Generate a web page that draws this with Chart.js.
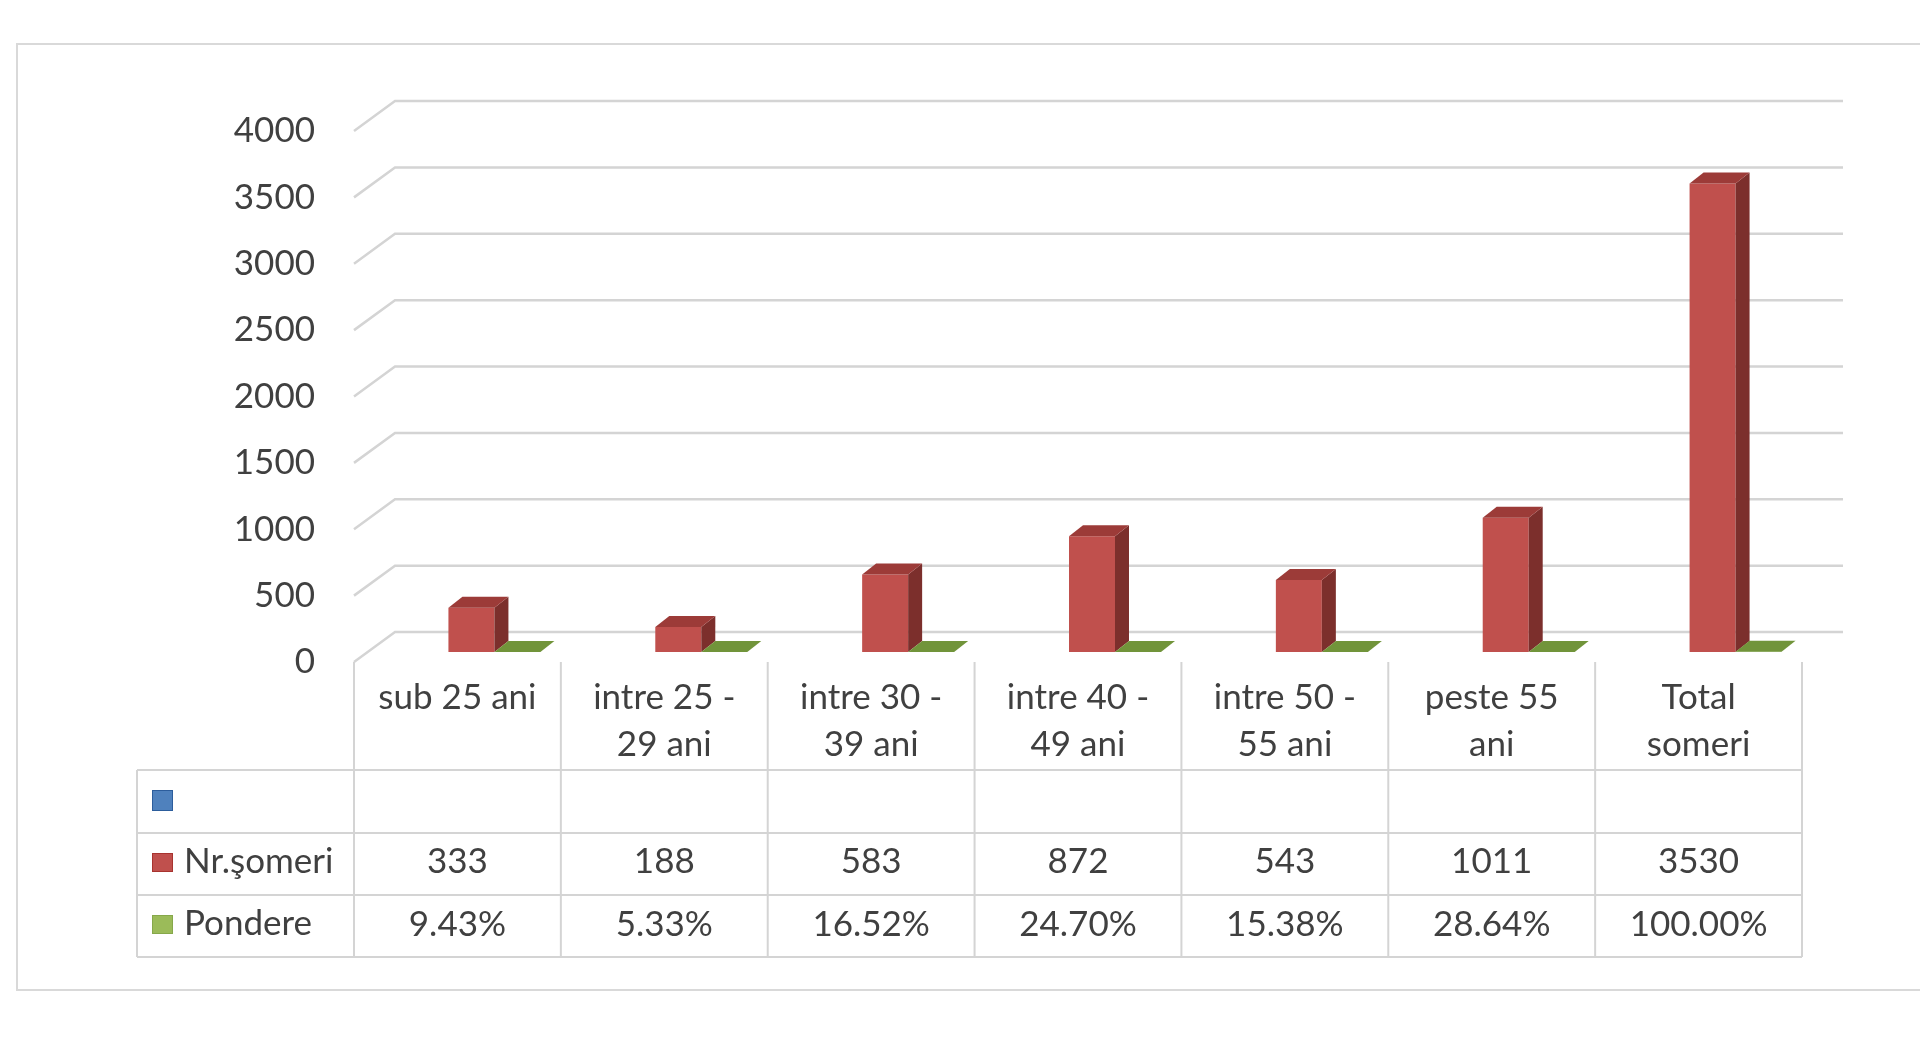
<!DOCTYPE html>
<html>
<head>
<meta charset="utf-8">
<script src="https://cdn.jsdelivr.net/npm/chart.js@4"></script>
<style>
  html, body { margin: 0; padding: 0; background: #fff; }
  #wrap { width: 1920px; height: 1045px; position: relative; }
</style>
</head>
<body>
<div id="wrap"><canvas id="myChart"></canvas></div>
<script>
// data
var categories = [['sub 25 ani'], ['intre 25 -', '29 ani'], ['intre 30 -', '39 ani'], ['intre 40 -', '49 ani'], ['intre 50 -', '55 ani'], ['peste 55', 'ani'], ['Total', 'someri']];
var emptySeries = [null, null, null, null, null, null, null];
var nrSomeri = [333, 188, 583, 872, 543, 1011, 3530];
var pondere = [9.43, 5.33, 16.52, 24.70, 15.38, 28.64, 100.00];
var yTicks = [0, 500, 1000, 1500, 2000, 2500, 3000, 3500, 4000];
var seriesNames = ['', 'Nr.şomeri', 'Pondere'];

var frontColors = ['#4f81bd', '#c0504d', '#9bbb59'];
var topColors = ['#3c6494', '#9c3b38', '#71943a'];
var sideColors = ['#2f5280', '#7c2f2c', '#5d7a2e'];
var keyBorders = ['#2c5d9c', '#a8332f', '#86a84a'];

var textColor = '#404040';
var lineColor = '#d4d4d4';
var font = '35px Lato';

// 3D offsets, relative to the plane the bars stand in
var FRONT = { dx: -14, dy: 10 };
var BACK = { dx: 27, dy: -20 };
var DEPTH = { dx: 14, dy: -11 };

var rowY = [770, 833, 895, 957];
var legendLeft = 137;

function poly(c, pts) {
  c.beginPath();
  c.moveTo(pts[0][0], pts[0][1]);
  for (var i = 1; i < pts.length; i++) c.lineTo(pts[i][0], pts[i][1]);
  c.closePath();
  c.fill();
}

var backdrop = {
  id: 'backdrop',
  beforeDatasetsDraw: function(chart) {
    var c = chart.ctx, y = chart.scales.y, area = chart.chartArea;
    c.save();
    c.strokeStyle = '#d9d9d9';
    c.lineWidth = 2;
    c.strokeRect(17, 44, 1950, 946);

    c.strokeStyle = lineColor;
    c.lineWidth = 2.5;
    yTicks.forEach(function(v) {
      var py = y.getPixelForValue(v);
      c.beginPath();
      c.moveTo(area.left + FRONT.dx, py + FRONT.dy);
      c.lineTo(area.left + BACK.dx, py + BACK.dy);
      c.lineTo(area.right + BACK.dx, py + BACK.dy);
      c.stroke();
    });

    c.fillStyle = textColor;
    c.font = font;
    c.textAlign = 'right';
    c.textBaseline = 'middle';
    yTicks.forEach(function(v) {
      c.fillText(String(v), 315, y.getPixelForValue(v) + FRONT.dy);
    });
    c.restore();
  }
};

var bars3d = {
  id: 'bars3d',
  afterDatasetsDraw: function(chart) {
    var c = chart.ctx;
    c.save();
    [1, 2].forEach(function(di) {
      chart.getDatasetMeta(di).data.forEach(function(bar) {
        var p = bar.getProps(['x', 'y', 'base', 'width'], true);
        var l = p.x - p.width / 2, r = p.x + p.width / 2, t = p.y, b = p.base;
        if (b - t > 0.5) {
          c.fillStyle = sideColors[di];
          poly(c, [[r, b], [r, t], [r + DEPTH.dx, t + DEPTH.dy], [r + DEPTH.dx, b + DEPTH.dy]]);
        }
        c.fillStyle = topColors[di];
        poly(c, [[l, t], [r, t], [r + DEPTH.dx, t + DEPTH.dy], [l + DEPTH.dx, t + DEPTH.dy]]);
      });
    });
    c.restore();
  }
};

var dataTable = {
  id: 'dataTable',
  afterDraw: function(chart) {
    var c = chart.ctx, x = chart.scales.x, y = chart.scales.y;
    var n = categories.length;
    var cw = chart.chartArea.width / n;
    var top = y.getPixelForValue(0) + FRONT.dy;
    var left0 = x.getPixelForValue(0) - cw / 2 + FRONT.dx;
    var right = left0 + n * cw;
    c.save();
    c.strokeStyle = lineColor;
    c.lineWidth = 2;
    c.beginPath();
    for (var i = 0; i <= n; i++) {
      var lx = left0 + i * cw;
      c.moveTo(lx, top);
      c.lineTo(lx, rowY[3]);
    }
    c.moveTo(legendLeft, rowY[0]);
    c.lineTo(legendLeft, rowY[3]);
    rowY.forEach(function(ry) {
      c.moveTo(legendLeft, ry);
      c.lineTo(right, ry);
    });
    c.stroke();

    c.fillStyle = textColor;
    c.font = font;
    c.textAlign = 'center';
    c.textBaseline = 'alphabetic';
    categories.forEach(function(lines, i) {
      var cx = x.getPixelForValue(i) + FRONT.dx;
      lines.forEach(function(s, k) {
        c.fillText(s, cx, 709 + k * 47);
      });
      c.fillText(String(nrSomeri[i]), cx, rowY[1] + 40);
      c.fillText(pondere[i].toFixed(2) + '%', cx, rowY[2] + 41);
    });

    // legend keys in the first column
    for (var d = 0; d < 3; d++) {
      var rt = rowY[d];
      var kh = d === 0 ? 21 : 19;
      c.fillStyle = frontColors[d];
      c.fillRect(152, rt + 20, 21, kh);
      c.strokeStyle = keyBorders[d];
      c.lineWidth = 1;
      c.strokeRect(152.5, rt + 20.5, 20, kh - 1);
      c.fillStyle = textColor;
      c.textAlign = 'left';
      c.fillText(seriesNames[d], 184, rt + 40);
    }
    c.restore();
  }
};

var ctx = document.getElementById('myChart').getContext('2d');
var myChart = new Chart(ctx, {
  type: 'bar',
  data: {
    labels: categories,
    datasets: [{
      label: seriesNames[0],
      data: emptySeries,
      backgroundColor: frontColors[0]
    }, {
      label: seriesNames[1],
      data: nrSomeri,
      backgroundColor: frontColors[1]
    }, {
      label: seriesNames[2],
      data: pondere.map(function(v) { return v / 100; }),
      backgroundColor: frontColors[2]
    }]
  },
  options: {
    responsive: true,
    maintainAspectRatio: false,
    animation: false,
    categoryPercentage: 0.667,
    barPercentage: 1,
    layout: { padding: { left: 368, right: 104, top: 121, bottom: 393 } },
    plugins: { legend: { display: false }, tooltip: { enabled: false } },
    scales: {
      x: { display: false },
      y: { display: false, min: 0, max: 4000 }
    }
  },
  plugins: [backdrop, bars3d, dataTable]
});
</script>
</body>
</html>
